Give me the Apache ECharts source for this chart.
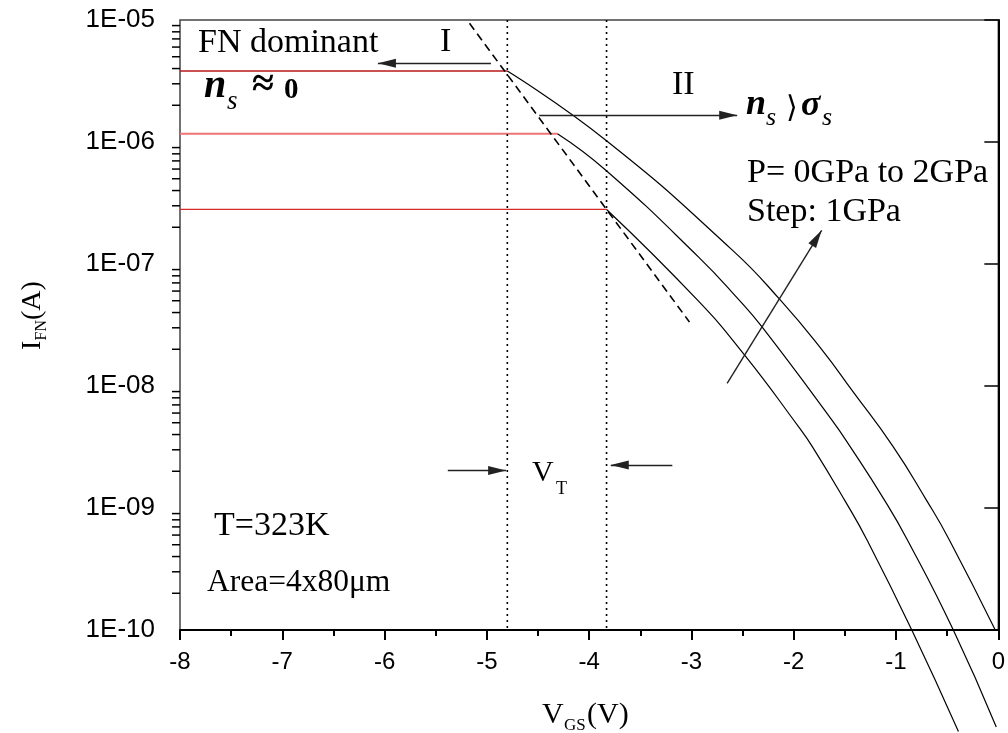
<!DOCTYPE html>
<html>
<head>
<meta charset="utf-8">
<script src="https://cdn.jsdelivr.net/npm/echarts@6.0.0/dist/echarts.min.js"></script>
<style>
  html, body { margin: 0; padding: 0; background: #fff; }
  #chart { width: 1008px; height: 733px; }
</style>
</head>
<body>
<div id="chart"></div>
<script>
// axis ranges
const xMin = -8, xMax = 0;
const yMin = 1e-10, yMax = 1e-5;

// I_FN vs V_GS, P = 0, 1, 2 GPa
const vP2 = [-4.8, -3.84, -2.6, -2.13, -1.72, -1.43, -1.03, -0.7, -0.48, -0.03];
const iP2 = [3.82e-6, 1.04e-6, 1.30e-7, 5.05e-8, 1.96e-8, 9.2e-9, 3.2e-9, 1.15e-9, 5.5e-10, 1.0e-10];
const vP1 = [-4.31, -3.84, -2.93, -2.54, -2.31, -1.63, -1.45, -1.11, -0.89, -0.44, -0.02];
const iP1 = [1.17e-6, 5.9e-7, 1.14e-7, 5.13e-8, 3.05e-8, 5.3e-9, 3.2e-9, 1.15e-9, 5.5e-10, 1.0e-10, 1.6e-11];
const vP0 = [-3.83, -2.94, -2.48, -1.95, -1.82, -1.5, -1.285, -0.846, -0.39];
const iP0 = [2.8e-7, 5.05e-8, 1.79e-8, 4.6e-9, 3.2e-9, 1.15e-9, 5.5e-10, 1.0e-10, 1.47e-11];

// FN dominant plateaus (from -8 V up to the knee)
const flatLevels = [3.82e-6, 1.17e-6, 2.8e-7];
const flatEnds = [-4.8, -4.31, -3.83];
const flatColors = ['#b81818', '#ec7676', '#d92a2a'];

// dashed line through the knees
const dashV = [-5.17, -3.02];
const dashI = [9.4e-6, 3.35e-8];

// threshold voltages (dotted)
const vtLines = [-4.8, -3.83];

// arrows: from (x1,y1) to tip (x2,y2)
const arrowX1 = [-4.96, -4.488, -2.651, -5.382, -3.187];
const arrowY1 = [4.42e-6, 1.66e-6, 1.05e-8, 2.03e-9, 2.25e-9];
const arrowX2 = [-6.065, -2.553, -1.727, -4.812, -3.789];
const arrowY2 = [4.42e-6, 1.66e-6, 1.89e-7, 2.03e-9, 2.25e-9];

// log minor ticks on the y axis
const yDecades = [-10, -9, -8, -7, -6];
const minorMult = [2, 3, 4, 5, 6, 7, 8, 9];
const yMinor = [];
yDecades.forEach(d => minorMult.forEach(m => yMinor.push(m * Math.pow(10, d))));

const SERIF = '"Liberation Serif", "Times New Roman", serif';

function txt(text, x, base, size, weight, style, family) {
  return {
    type: 'text', x: x, y: base - 0.34 * size, silent: true,
    style: {
      text: text, fill: '#000',
      fontSize: size, fontFamily: family || SERIF,
      fontWeight: weight || 'normal', fontStyle: style || 'normal',
      align: 'left', verticalAlign: 'middle',
      textAlign: 'left', textVerticalAlign: 'middle'
    }
  };
}

const chart = echarts.init(document.getElementById('chart'));

const series = [];
[[vP0, iP0], [vP1, iP1], [vP2, iP2]].forEach(([v, i]) => {
  series.push({
    type: 'line', data: v.map((x, k) => [x, i[k]]),
    smooth: 0.5, symbol: 'none', clip: false,
    lineStyle: { color: '#000', width: 1.2 }, z: 3
  });
});
flatLevels.forEach((lvl, k) => {
  series.push({
    type: 'line', data: [[xMin, lvl], [flatEnds[k], lvl]], symbol: 'none',
    lineStyle: { color: flatColors[k], width: k === 1 ? 2 : 1.3 }, z: 2
  });
});
series.push({
  type: 'line', data: [[dashV[0], dashI[0]], [dashV[1], dashI[1]]], symbol: 'none',
  lineStyle: { color: '#000', width: 1.6, type: [8, 5] }, z: 2,
  markLine: {
    silent: true, animation: false,
    symbol: ['none', 'triangle'], symbolSize: [9, 18],
    symbolOffset: [0, [0, 9]],
    label: { show: false },
    lineStyle: { color: '#222', width: 1.4, type: 'solid' },
    data: arrowX1.map((x, k) => [{ coord: [x, arrowY1[k]] }, { coord: [arrowX2[k], arrowY2[k]] }])
  }
});
vtLines.forEach(v => {
  series.push({
    type: 'line', data: [[v, yMax], [v, yMin]], symbol: 'none',
    lineStyle: { color: '#000', width: 1.6, type: [2, 4] }, z: 2
  });
});
series.push({
  type: 'custom', clip: false, silent: true, z: 5,
  data: yMinor.map(v => [xMin, v]),
  renderItem: (params, api) => {
    const p = api.coord([api.value(0), api.value(1)]);
    return { type: 'line', shape: { x1: p[0] - 8, y1: p[1], x2: p[0], y2: p[1] },
             style: { stroke: '#000', lineWidth: 1.5 } };
  }
});

const option = {
  animation: false,
  backgroundColor: '#fff',
  grid: { left: 180, right: 8, top: 20, bottom: 103, show: true, borderColor: '#444', borderWidth: 1.5 },
  xAxis: {
    type: 'value', min: xMin, max: xMax, interval: 1,
    axisLine: { lineStyle: { color: '#000', width: 2 } },
    axisTick: { length: 10, lineStyle: { color: '#000', width: 2 } },
    minorTick: { show: true, splitNumber: 2, length: 6, lineStyle: { color: '#000', width: 2 } },
    splitLine: { show: false },
    axisLabel: { color: '#000', fontSize: 24, fontFamily: '"Liberation Sans", Arial, sans-serif', margin: 20 }
  },
  yAxis: {
    type: 'log', logBase: 10, min: yMin, max: yMax, splitNumber: 5,
    axisLine: { lineStyle: { color: '#000', width: 2 } },
    axisTick: { length: 14, lineStyle: { color: '#000', width: 1.5 } },
    splitLine: { show: false },
    axisLabel: {
      color: '#000', fontSize: 26, fontFamily: '"Liberation Sans", Arial, sans-serif', margin: 25,
      formatter: v => {
        const e = Math.round(Math.log10(v));
        return '1E' + (e < 0 ? '-' : '+') + String(Math.abs(e)).padStart(2, '0');
      }
    }
  },
  series: series,
  graphic: [
    txt('FN dominant', 198, 55, 34),
    txt('I', 440, 54, 34),
    txt('n', 204, 100, 40, 'bold', 'italic'),
    txt('s', 227, 111, 27, 'normal', 'italic'),
    txt('\u2248', 252, 99, 40, 'bold'),
    txt('0', 284, 100, 29, 'bold'),
    txt('II', 672, 97, 34),
    txt('n', 746, 117, 36, 'bold', 'italic'),
    txt('s', 766, 127, 26, 'normal', 'italic'),
    txt('\u27e9', 786, 119, 30),
    txt('\u03c3', 801, 118, 36, 'bold', 'italic'),
    txt('s', 822, 127, 26, 'normal', 'italic'),
    txt('P= 0GPa to 2GPa', 747, 185, 34),
    txt('Step: 1GPa', 747, 224, 34),
    txt('V', 532, 483, 30),
    txt('T', 556, 495, 18),
    txt('T=323K', 214, 538, 34),
    txt('Area=4x80\u03bcm', 207, 593, 31.5),
    txt('V', 542, 725, 30),
    txt('GS', 564, 731, 17),
    txt('(V)', 587, 725, 30),
    {
      type: 'group', x: 42, y: 350, rotation: Math.PI / 2,
      children: [
        txt('I', 0, 0, 28),
        txt('FN', 9.5, 5, 16),
        txt('(A)', 30, 0, 28)
      ]
    }
  ]
};

chart.setOption(option);
window.onresize = () => { chart.resize(); };
</script>
</body>
</html>
